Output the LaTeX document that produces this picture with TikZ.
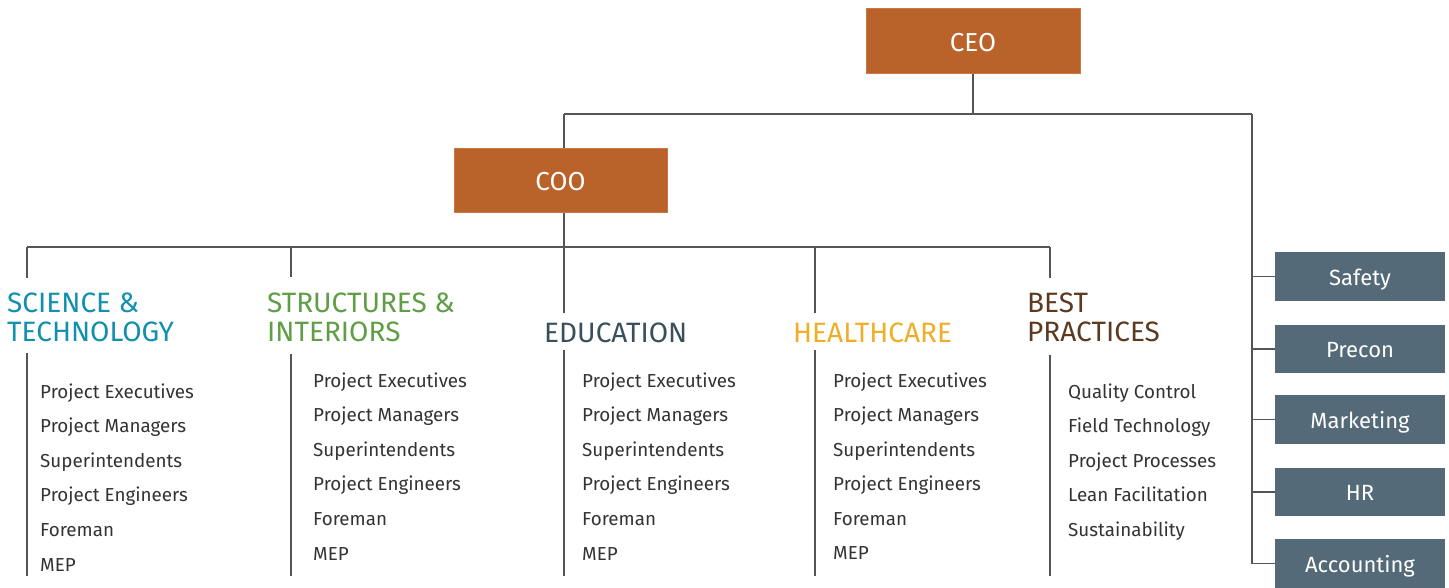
\documentclass[tikz,border=0pt]{standalone}
\usepackage{fontspec}
\setmainfont{Fira Sans}
\definecolor{boxorange}{HTML}{B9622A}
\definecolor{boxedge}{HTML}{C97845}
\definecolor{boxslate}{HTML}{546A78}
\definecolor{linegray}{HTML}{555555}
\definecolor{scicol}{HTML}{1190AE}
\definecolor{strcol}{HTML}{5E9E45}
\definecolor{educol}{HTML}{3A4F5C}
\definecolor{hltcol}{HTML}{F0AE28}
\definecolor{bstcol}{HTML}{5B3A20}
\definecolor{itemcol}{HTML}{333333}
\tikzset{
  orgbox/.style={fill=boxorange, draw=boxedge, line width=1pt, text=white, font=\fontsize{26}{28}\selectfont, inner sep=0pt, text height=21pt, text depth=0pt},
  sidebox/.style={fill=boxslate, draw=none, text=white, font=\fontsize{22}{26}\selectfont, minimum width=170pt, minimum height=48.5pt, inner sep=0pt, text height=17pt, text depth=0pt},
  conn/.style={draw=linegray, line width=1.3pt},
  heading/.style={anchor=base west, inner sep=0pt, font=\fontsize{28}{29}\selectfont, align=left},
  item/.style={anchor=base west, inner sep=0pt, text=itemcol, font=\fontsize{18.8}{20}\selectfont}
}
\begin{document}
\begin{tikzpicture}[x=1pt,y=-1pt]
\useasboundingbox (0,0) rectangle (1449,587);

% top boxes
\node[orgbox, minimum width=214pt, minimum height=65pt] (ceo) at (973,40.5) {CEO};
\node[orgbox, minimum width=213pt, minimum height=64pt] (coo) at (560.5,180) {COO};

% side boxes
\node[sidebox] (safety) at (1360,276.5) {Safety};
\node[sidebox] (precon) at (1360,349) {Precon};
\node[sidebox] (marketing) at (1360,419.5) {Marketing};
\node[sidebox] (hr) at (1360,492) {HR};
\node[sidebox] (accounting) at (1360,563.5) {Accounting};

% junction coordinates
\coordinate (topbus) at (973,114);
\coordinate (busL) at (564,114);
\coordinate (busR) at (1252,114);
\coordinate (divbus) at (564,247);
\coordinate (divL) at (27,247);
\coordinate (divR) at (1050,247);

% headings
\node[heading, text=scicol] (sci) at (7,341) {SCIENCE \&\\TECHNOLOGY};
\node[heading, text=strcol] (str) at (267,341) {STRUCTURES \&\\INTERIORS};
\node[heading, text=educol] (edu) at (544,342) {EDUCATION};
\node[heading, text=hltcol] (hlt) at (793,342) {HEALTHCARE};
\node[heading, text=bstcol] (bst) at (1027,341) {BEST\\PRACTICES};

% connectors
\draw[conn] (ceo.south) -- (topbus);
\draw[conn] (busL) -- (busR);
\draw[conn] (busL) -- (busL |- coo.north);
\draw[conn] (busL |- coo.south) -- (divbus);
\draw[conn] (divL) -- (divR);
\draw[conn] (busR) |- (accounting.west);
\foreach \b in {safety,precon,marketing,hr}
  \draw[conn] (\b.west -| busR) -- (\b.west);

% division drop lines
\coordinate (sciT) at (27,278);
\coordinate (strT) at (291,277);
\coordinate (eduT) at (564,313);
\coordinate (hltT) at (815,313);
\coordinate (bstT) at (1050,278);
\draw[conn] (divL) -- (sciT);
\draw[conn] (291,247) -- (strT);
\draw[conn] (divbus) -- (eduT);
\draw[conn] (815,247) -- (hltT);
\draw[conn] (divR) -- (bstT);

% list lines
\coordinate (sciA) at (27,353); \coordinate (sciB) at (27,576);
\coordinate (strA) at (291,354); \coordinate (strB) at (291,576);
\coordinate (eduA) at (564,350); \coordinate (eduB) at (564,576);
\coordinate (hltA) at (815,350); \coordinate (hltB) at (815,576);
\coordinate (bstA) at (1050,355); \coordinate (bstB) at (1050,576);
\draw[conn] (sciA) -- (sciB);
\draw[conn] (strA) -- (strB);
\draw[conn] (eduA) -- (eduB);
\draw[conn] (hltA) -- (hltB);
\draw[conn] (bstA) -- (bstB);

% items
\foreach \t [count=\i] in {Project Executives,Project Managers,Superintendents,Project Engineers,Foreman,MEP}{
  \node[item] (sciI\i) at (40,{398+34.6*(\i-1)}) {\t};
  \node[item] (strI\i) at (313,{387+34.6*(\i-1)}) {\t};
  \node[item] (eduI\i) at (582,{387+34.6*(\i-1)}) {\t};
  \node[item] (hltI\i) at (833,{387+34.5*(\i-1)}) {\t};
}
\foreach \t [count=\i] in {Quality Control,Field Technology,Project Processes,Lean Facilitation,Sustainability}{
  \node[item] (bstI\i) at (1068,{398+34.6*(\i-1)}) {\t};
}
\end{tikzpicture}
\end{document}
